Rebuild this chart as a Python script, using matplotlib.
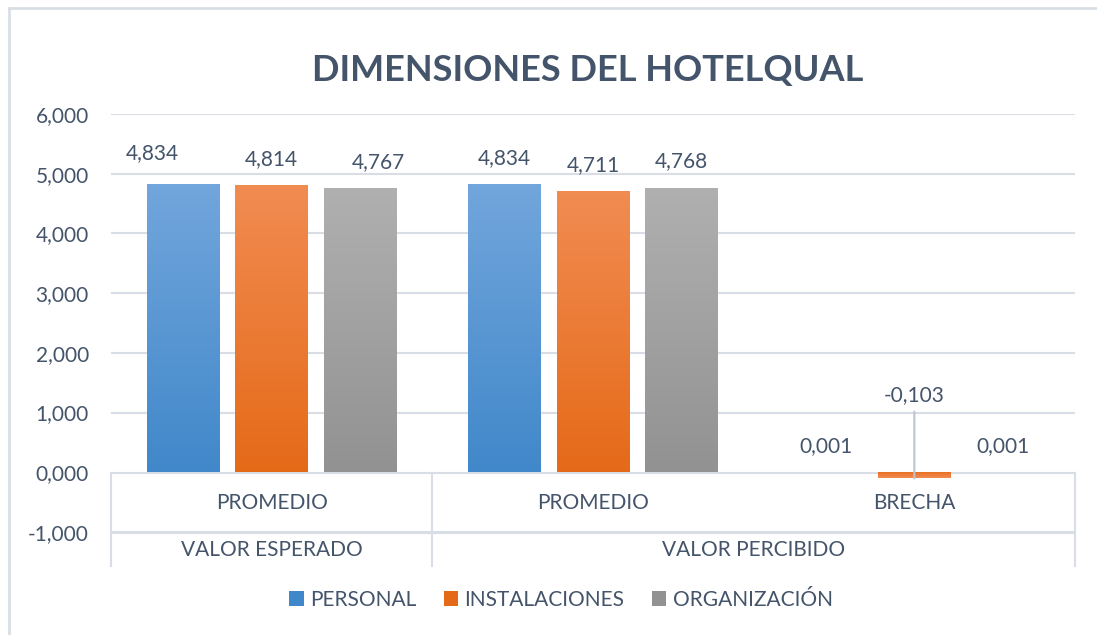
import matplotlib
matplotlib.use("Agg")
import matplotlib.pyplot as plt
import numpy as np
from matplotlib.patches import Patch
from matplotlib.lines import Line2D
from matplotlib.transforms import blended_transform_factory
import matplotlib.colors as mcolors

plt.rcParams['font.family'] = ['Lato', 'DejaVu Sans']

title = "DIMENSIONES DEL HOTELQUAL"
categories = ["PROMEDIO", "PROMEDIO", "BRECHA"]
groups = ["VALOR ESPERADO", "VALOR PERCIBIDO"]
group_spans = [(0, 0), (1, 2)]
series_names = ["PERSONAL", "INSTALACIONES", "ORGANIZACIÓN"]
personal = [4.834, 4.834, 0.001]
instalaciones = [4.814, 4.711, -0.103]
organizacion = [4.767, 4.768, 0.001]
yticks = [-1, 0, 1, 2, 3, 4, 5, 6]

series = [personal, instalaciones, organizacion]
top_colors = ["#72A6DC", "#F18C52", "#B0B0B0"]
bot_colors = ["#4188CA", "#E56A18", "#929292"]
txt = "#44546A"
grid_c = "#D9DEE6"

# manual data-label nudges (pixels) keyed by (series, category)
label_nudge = {(0, 0): (-31, 31), (2, 0): (18, 26)}

W, H = 1097, 635
fig = plt.figure(figsize=(W / 100, H / 100), dpi=100)
ax = fig.add_axes([111 / W, (H - 532) / H, 964 / W, 418 / H])
ax.set_xlim(-0.5, 2.5)
ax.set_ylim(-1, 6)

for s in ax.spines.values():
    s.set_visible(False)
ax.set_xticks([])
ax.set_yticks(yticks)
ax.set_yticklabels([f"{v:.3f}".replace('.', ',') for v in yticks],
                   fontsize=15, color=txt)
ax.tick_params(axis='y', length=0, pad=16)
for v in yticks:
    if v != 0:
        ax.axhline(v, color=grid_c, lw=1.5, zorder=0)

x = np.arange(len(categories))
width = 0.227
step = 0.276
for i, vals in enumerate(series):
    pos = x + (i - 1) * step
    bars = ax.bar(pos, vals, width, color=bot_colors[i], zorder=2)
    cmap = mcolors.LinearSegmentedColormap.from_list("g", [bot_colors[i], top_colors[i]])
    for b in bars:
        x0, y0 = b.get_x(), b.get_y()
        w, h = b.get_width(), b.get_height()
        if abs(h) < 1e-9:
            continue
        grad = np.linspace(0, 1, 256).reshape(-1, 1)
        im = ax.imshow(grad, extent=[x0, x0 + w, y0, y0 + h], origin='lower',
                       aspect='auto', cmap=cmap, zorder=3)
        im.set_clip_path(b)

# data labels
for i, vals in enumerate(series):
    for j, v in enumerate(vals):
        xp = x[j] + (i - 1) * step
        lab = f"{v:.3f}".replace('.', ',')
        if v < 0:
            ax.annotate(lab, (xp, v), xytext=(xp, 1.3), textcoords='data',
                        ha='center', va='center', fontsize=15, color=txt,
                        arrowprops=dict(arrowstyle='-', color="#BCC4D0", lw=1.5,
                                        shrinkA=3, shrinkB=0), zorder=5)
        else:
            dx, dy = label_nudge.get((i, j), (0, 26))
            ax.annotate(lab, (xp, v), xytext=(dx, dy), textcoords='offset pixels',
                        ha='center', va='center', fontsize=15, color=txt, zorder=5)

# multi-level category axis box
tr = blended_transform_factory(ax.transData, fig.transFigure)
yb0 = (H - 473) / H
yb1 = (H - 533) / H
yb2 = (H - 566) / H
box_c = "#D9DEE6"
ax.add_line(Line2D([-0.5, 2.5], [yb0, yb0], transform=tr, color=box_c, lw=1.5, clip_on=False))
ax.add_line(Line2D([-0.5, 2.5], [yb1, yb1], transform=tr, color=box_c, lw=1.5, clip_on=False))
for xv, ybot in [(-0.5, yb2), (0.5, yb2), (2.5, yb2)]:
    ax.add_line(Line2D([xv, xv], [yb0, ybot], transform=tr, color=box_c, lw=1.5, clip_on=False))
for j, c in enumerate(categories):
    ax.text(x[j], (H - 503) / H, c, transform=tr, ha='center', va='center',
            fontsize=15, color=txt)
for g, (a, b) in zip(groups, group_spans):
    ax.text((a + b) / 2, (H - 550) / H, g, transform=tr, ha='center', va='center',
            fontsize=15, color=txt)

# title
fig.text(588 / W, 1 - 70 / H, title, ha='center', va='center', fontsize=26,
         fontweight='bold', color=txt)

# legend
handles = [Patch(facecolor=bot_colors[i], edgecolor='none') for i in range(3)]
leg = fig.legend(handles, series_names, loc='center', bbox_to_anchor=(561 / W, 1 - 600 / H),
                 ncol=3, frameon=False, fontsize=15, handlelength=0.7, handleheight=0.7,
                 handletextpad=0.3, columnspacing=1.3)
for t in leg.get_texts():
    t.set_color(txt)

# chart border (left and top visible)
fig.add_artist(Line2D([9 / W, 9 / W], [0, 1 - 8 / H], transform=fig.transFigure,
                      color="#D9DEE6", lw=2))
fig.add_artist(Line2D([9 / W, 1], [1 - 8 / H, 1 - 8 / H], transform=fig.transFigure,
                      color="#D9DEE6", lw=2))

fig.savefig("out.png", dpi=100, facecolor='white')
